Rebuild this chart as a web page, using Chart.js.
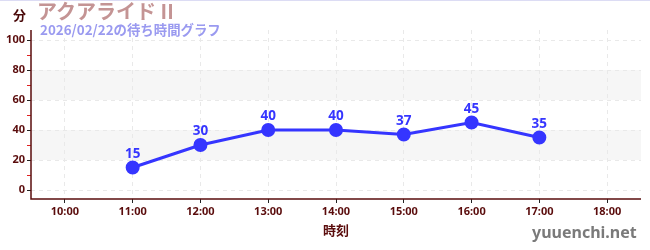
<!DOCTYPE html>
<html><head><meta charset="utf-8">
<script src="https://cdn.jsdelivr.net/npm/chart.js@4.4.1/dist/chart.umd.min.js"></script>
<style>
html,body{margin:0;padding:0;background:#fff;}
#wrap{position:relative;width:650px;height:250px;overflow:hidden;}
#topline{position:absolute;left:0;top:0;width:650px;height:1px;background:#dcdcf4;}
.t{position:absolute;white-space:nowrap;font-family:"Noto Sans CJK JP","Noto Sans",sans-serif;font-weight:bold;line-height:1;}
#title{left:37px;top:1px;font-size:20px;color:#c49494;}
#sub{left:40px;top:23px;font-size:13.4px;color:#9a9af0;}
#unit{left:13px;top:8px;font-size:13px;color:#4a0a0a;}
#site{left:532px;top:224px;font-size:16px;color:#7a7a7a;font-family:"Noto Sans","DejaVu Sans",sans-serif;}
canvas{position:absolute;left:0;top:0;}
</style></head>
<body><div id="wrap">
<canvas id="c" width="650" height="250"></canvas>
<div id="topline"></div>
<div class="t" id="unit">分</div>
<div class="t" id="title">アクアライド II</div>
<div class="t" id="sub">2026/02/22の待ち時間グラフ</div>
<div class="t" id="site">yuuenchi.net</div>
</div>
<script>
const categories = ['10:00','11:00','12:00','13:00','14:00','15:00','16:00','17:00','18:00'];
const waitTimes = [null,15,30,40,40,37,45,35,null];
const yTickValues = [0,10,20,30,40,50,60,70,80,90,100];
const yLabelValues = [0,20,40,60,80,100];
const bands = [[20,40],[60,80]];

const axisColor = '#5a0c0c';
const lineColor = '#3535ff';
const gridColor = '#e9e9e9';

const bandPlugin = {
  id:'bands',
  beforeDraw(chart){
    const {ctx, chartArea:a, scales:{y}} = chart;
    ctx.save();
    ctx.fillStyle = '#f6f6f6';
    bands.forEach(([lo,hi])=>{
      const y1 = y.getPixelForValue(hi), y2 = y.getPixelForValue(lo);
      ctx.fillRect(a.left, y1, a.right-a.left, y2-y1);
    });
    ctx.restore();
  }
};
const axisLinePlugin = {
  id:'axislines',
  beforeDatasetsDraw(chart){
    const {ctx, chartArea:a} = chart;
    ctx.save();
    ctx.strokeStyle = axisColor;
    ctx.lineWidth = 1.5;
    ctx.setLineDash([]);
    ctx.beginPath();
    ctx.moveTo(a.left, a.top);
    ctx.lineTo(a.left, a.bottom);
    ctx.lineTo(a.right, a.bottom);
    ctx.stroke();
    ctx.restore();
  }
};
const labelPlugin = {
  id:'vlabels',
  afterDatasetsDraw(chart){
    const {ctx} = chart;
    const meta = chart.getDatasetMeta(0);
    ctx.save();
    ctx.font = 'bold 13.5px "Noto Sans","DejaVu Sans",sans-serif';
    ctx.fillStyle = lineColor;
    ctx.textAlign = 'center';
    ctx.textBaseline = 'bottom';
    meta.data.forEach((pt,i)=>{
      const v = waitTimes[i];
      if(v===null) return;
      ctx.fillText(String(v), pt.x, pt.y - 7);
    });
    ctx.restore();
  }
};

new Chart(document.getElementById('c'), {
  type:'line',
  data:{labels:categories, datasets:[{
    data:waitTimes, borderColor:lineColor, backgroundColor:lineColor,
    borderWidth:3, pointRadius:5.5, pointHoverRadius:5.5, tension:0, spanGaps:false
  }]},
  options:{
    responsive:false, animation:false,
    layout:{padding:{top:30,right:9,left:0,bottom:0}},
    plugins:{legend:{display:false}, tooltip:{enabled:false}},
    scales:{
      x:{
        offset:true,
        afterFit(s){ s.height = 51; },
        grid:{offset:false, color:gridColor, tickColor:'#222', tickLength:4, tickBorderDash:[]},
        border:{display:false, dash:[4,4]},
        ticks:{color:axisColor, padding:2, font:{size:11, weight:'bold', family:'"Noto Sans","DejaVu Sans",sans-serif'}},
        title:{display:true, text:'時刻', color:axisColor, padding:{top:0,bottom:12}, font:{size:13, weight:'bold', family:'"Noto Sans CJK JP",sans-serif'}}
      },
      y:{
        min:-6, max:106.67,
        afterFit(s){ s.width = 31; },
        afterBuildTicks(s){ s.ticks = yTickValues.map(v=>({value:v})); },
        grid:{
          color:(c)=> (c.tick && yLabelValues.includes(c.tick.value)) ? gridColor : 'rgba(0,0,0,0)',
          tickColor:(c)=> (c.tick && yLabelValues.includes(c.tick.value)) ? '#222' : '#e02020',
          tickLength:4, tickBorderDash:[]
        },
        border:{display:false, dash:[4,4]},
        ticks:{color:axisColor, padding:2, autoSkip:false,
          callback:(v)=> yLabelValues.includes(v) ? String(v) : '',
          font:{size:11, weight:'bold', family:'"Noto Sans","DejaVu Sans",sans-serif'}}
      }
    }
  },
  plugins:[bandPlugin, axisLinePlugin, labelPlugin]
});
</script>
</body></html>
